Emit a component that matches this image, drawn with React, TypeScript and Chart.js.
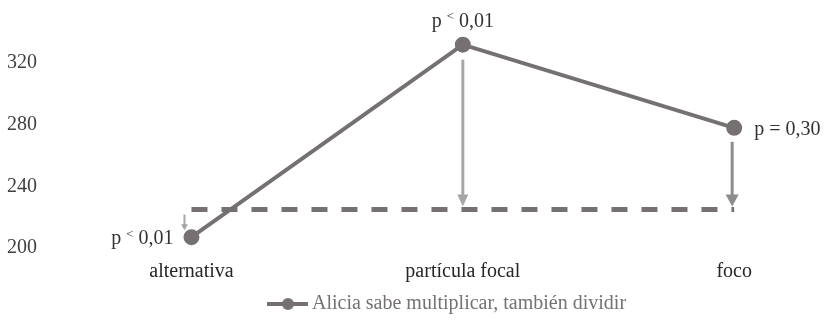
import React, { useEffect, useRef } from "react";
import { Chart, registerables } from "chart.js";

Chart.register(...registerables);

const categories = ["alternativa", "partícula focal", "foco"];
const seriesName = "Alicia sabe multiplicar, también dividir";
const seriesValues = [207, 332, 278];
const baselineValues = [225, 225, 225];
const pLabels = ["p < 0,01", "p < 0,01", "p = 0,30"];
const yTickValues = [200, 240, 280, 320];

const FONT = "'Liberation Serif', 'Times New Roman', serif";
const LINE_COLOR = "#767171";

const labelStyle = [
  { place: "left", gap: 18, dy: 2 },
  { place: "top", gap: 23, dy: 0 },
  { place: "right", gap: 20, dy: 2 },
];

const arrowStyle = [
  { dx: -7, startGap: 5, endGap: 7, color: "#a6a6a6", width: 2, headW: 7, headLen: 6 },
  { dx: 0, startGap: 15, endGap: 3, color: "#a6a6a6", width: 3, headW: 11, headLen: 12 },
  { dx: -2, startGap: 14, endGap: 3, color: "#8c8c8c", width: 3, headW: 13, headLen: 12 },
];

function drawPLabel(ctx: CanvasRenderingContext2D, text: string, x: number, y: number, place: string) {
  const big = `20px ${FONT}`;
  const small = `13px ${FONT}`;
  const parts = text.split("<");
  ctx.save();
  ctx.fillStyle = "#333333";
  ctx.textBaseline = "middle";
  ctx.textAlign = "left";
  ctx.font = big;
  const w0 = ctx.measureText(parts[0]).width;
  let w1 = 0;
  let w2 = 0;
  if (parts.length > 1) {
    ctx.font = small;
    w1 = ctx.measureText("<").width;
    ctx.font = big;
    w2 = ctx.measureText(parts[1]).width;
  }
  const total = w0 + w1 + w2;
  let sx = x;
  if (place === "left") sx = x - total;
  else if (place === "top") sx = x - total / 2;
  ctx.font = big;
  ctx.fillText(parts[0], sx, y);
  if (parts.length > 1) {
    ctx.font = small;
    ctx.fillText("<", sx + w0, y - 5);
    ctx.font = big;
    ctx.fillText(parts[1], sx + w0 + w1, y);
  }
  ctx.restore();
}

const annotationPlugin = {
  id: "annotations",
  afterDatasetsDraw(chart: any) {
    const ctx: CanvasRenderingContext2D = chart.ctx;
    const xs = chart.scales.x;
    const ys = chart.scales.y;
    seriesValues.forEach((v, i) => {
      const a = arrowStyle[i];
      const x = xs.getPixelForValue(i) + a.dx;
      const yv = ys.getPixelForValue(v);
      const yb = ys.getPixelForValue(baselineValues[i]);
      const top = Math.min(yv, yb) + a.startGap;
      const bot = Math.max(yv, yb) - a.endGap;
      ctx.save();
      ctx.strokeStyle = a.color;
      ctx.fillStyle = a.color;
      ctx.lineWidth = a.width;
      ctx.beginPath();
      ctx.moveTo(x, top);
      ctx.lineTo(x, bot - a.headLen + 1);
      ctx.stroke();
      ctx.beginPath();
      ctx.moveTo(x - a.headW / 2, bot - a.headLen);
      ctx.lineTo(x + a.headW / 2, bot - a.headLen);
      ctx.lineTo(x, bot);
      ctx.closePath();
      ctx.fill();
      ctx.restore();
    });
    seriesValues.forEach((v, i) => {
      const s = labelStyle[i];
      const px = xs.getPixelForValue(i);
      const py = ys.getPixelForValue(v);
      if (s.place === "left") drawPLabel(ctx, pLabels[i], px - s.gap, py + s.dy, "left");
      else if (s.place === "right") drawPLabel(ctx, pLabels[i], px + s.gap, py + s.dy, "right");
      else drawPLabel(ctx, pLabels[i], px, py - s.gap, "top");
    });
  },
};

function makeLegendIcon() {
  const c = document.createElement("canvas");
  c.width = 41;
  c.height = 14;
  const g = c.getContext("2d")!;
  g.strokeStyle = LINE_COLOR;
  g.fillStyle = LINE_COLOR;
  g.lineWidth = 4;
  g.beginPath();
  g.moveTo(0, 7);
  g.lineTo(41, 7);
  g.stroke();
  g.beginPath();
  g.arc(20.5, 7, 6, 0, Math.PI * 2);
  g.fill();
  return c;
}

export default function App() {
  const ref = useRef<HTMLCanvasElement>(null);
  useEffect(() => {
    if (!ref.current) return;
    const icon = makeLegendIcon();
    const chart = new Chart(ref.current, {
      type: "line",
      data: {
        datasets: [
          {
            label: seriesName,
            data: seriesValues.map((v, i) => ({ x: i, y: v })),
            borderColor: LINE_COLOR,
            backgroundColor: LINE_COLOR,
            borderWidth: 4,
            pointRadius: 6,
            pointHoverRadius: 6,
            pointBackgroundColor: LINE_COLOR,
            pointBorderColor: LINE_COLOR,
            tension: 0,
          },
          {
            label: "baseline",
            data: baselineValues.map((v, i) => ({ x: i, y: v })),
            borderColor: LINE_COLOR,
            borderWidth: 5,
            borderDash: [16, 14],
            borderCapStyle: "butt",
            pointRadius: 0,
            tension: 0,
          },
        ],
      },
      options: {
        animation: false,
        responsive: true,
        maintainAspectRatio: false,
        layout: { padding: { left: 7, right: 0, top: 20, bottom: -2 } },
        scales: {
          x: {
            type: "linear",
            min: -0.4145,
            max: 2.32,
            grid: { display: false, drawTicks: false },
            border: { display: false },
            afterBuildTicks: (scale: any) => {
              scale.ticks = categories.map((_, i) => ({ value: i }));
            },
            afterFit: (scale: any) => {
              scale.height = 36;
            },
            ticks: {
              padding: 12,
              color: "#262626",
              font: { family: FONT, size: 20 },
              callback: (v: any) => categories[v as number] ?? "",
            },
          },
          y: {
            min: 200,
            max: 348,
            grid: { display: false, drawTicks: false },
            border: { display: false },
            afterBuildTicks: (scale: any) => {
              scale.ticks = yTickValues.map((v) => ({ value: v }));
            },
            afterFit: (scale: any) => {
              scale.width = 72;
            },
            ticks: {
              crossAlign: "far",
              color: "#404040",
              font: { family: FONT, size: 20 },
            },
          },
        },
        plugins: {
          tooltip: { enabled: false },
          legend: {
            position: "bottom",
            fullSize: false,
            labels: {
              usePointStyle: true,
              pointStyleWidth: 28,
              color: LINE_COLOR,
              font: { family: FONT, size: 20 },
              generateLabels: () => [
                {
                  text: seriesName,
                  pointStyle: icon as any,
                  fillStyle: LINE_COLOR,
                  strokeStyle: LINE_COLOR,
                  lineWidth: 0,
                  hidden: false,
                  datasetIndex: 0,
                  fontColor: LINE_COLOR,
                },
              ],
            },
          },
        },
      },
      plugins: [annotationPlugin],
    } as any);
    return () => chart.destroy();
  }, []);
  return (
    <div style={{ position: "fixed", left: 0, top: 0, width: 831, height: 322 }}>
      <canvas ref={ref} />
    </div>
  );
}
